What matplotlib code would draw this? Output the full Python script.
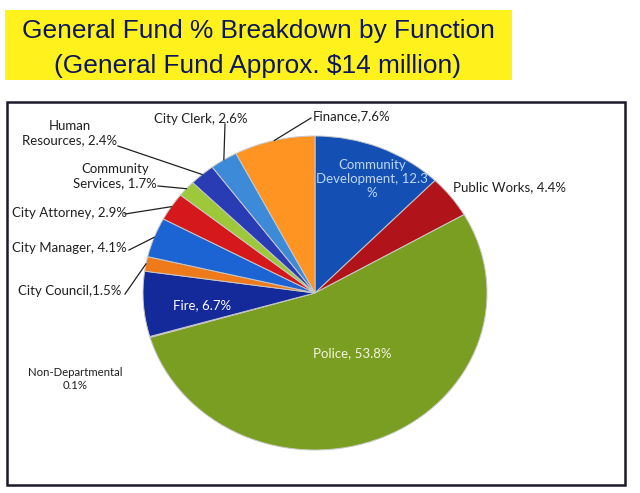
import matplotlib
matplotlib.use("Agg")
import matplotlib.pyplot as plt
from matplotlib.patches import Rectangle
import numpy as np

# ---- data ----
categories = ["Community Development", "Public Works", "Police", "Non-Departmental",
              "Fire", "City Council", "City Manager", "City Attorney",
              "Community Services", "Human Resources", "City Clerk", "Finance"]
values = [12.3, 4.4, 53.8, 0.1, 6.7, 1.5, 4.1, 2.9, 1.7, 2.4, 2.6, 7.6]
label_texts = ["Community\nDevelopment, 12.3\n%", "Public Works, 4.4%", "Police, 53.8%",
               "Non-Departmental\n0.1%", "Fire, 6.7%", "City Council,1.5%",
               "City Manager, 4.1%", "City Attorney, 2.9%", "Community\nServices, 1.7%",
               "Human\nResources, 2.4%", "City Clerk, 2.6%", "Finance,7.6%"]
title_lines = ["General Fund % Breakdown by Function",
               "(General Fund Approx. $14 million)"]

colors = ["#1450b4", "#b0141a", "#7a9e22", "#9090a0", "#152a9a", "#ee7a1c",
          "#1c64d4", "#d4181c", "#9cc83a", "#2a3cb4", "#3c8ad8", "#ff9422"]

W, H = 640, 493
fig = plt.figure(figsize=(W / 100, H / 100), dpi=100)
fig.patch.set_facecolor("white")

# overlay axes in pixel coordinates (y down)
ov = fig.add_axes([0, 0, 1, 1])
ov.set_xlim(0, W)
ov.set_ylim(H, 0)
ov.axis("off")

# title box
ov.add_patch(Rectangle((5, 10), 507, 70, facecolor="#fff21c", edgecolor="none", zorder=1))
ov.text(258, 38, title_lines[0], ha="center", va="baseline", fontsize=18.9,
        family="Liberation Sans", color="#0c1658", zorder=2)
ov.text(258, 73, title_lines[1], ha="center", va="baseline", fontsize=18.9,
        family="Liberation Sans", color="#0c1658", zorder=2)

# chart frame
ov.add_patch(Rectangle((7, 102), 618, 383, facecolor="none", edgecolor="#1a1a2a",
                       linewidth=1.8, zorder=1))

# pie axes (slightly elliptical like the scan)
cx0, cx1, cy0, cy1 = 143, 487, 136, 450
pax = fig.add_axes([cx0 / W, 1 - cy1 / H, (cx1 - cx0) / W, (cy1 - cy0) / H])
wedges, _ = pax.pie(values, colors=colors, startangle=90, counterclock=False,
                    radius=1.0, wedgeprops=dict(edgecolor="#c8c8c8", linewidth=0.7))
pax.set_aspect("auto")
pax.set_xlim(-1, 1)
pax.set_ylim(-1, 1)
pax.axis("off")
pax.set_zorder(2)
ov.set_zorder(3)
ov.patch.set_alpha(0)


def wedge_point(i, r=1.0):
    w = wedges[i]
    th = np.deg2rad((w.theta1 + w.theta2) / 2)
    disp = pax.transData.transform((r * np.cos(th), r * np.sin(th)))
    return ov.transData.inverted().transform(disp)


lab_font = ["Lato", "DejaVu Sans"]
fs = 9.5

# outside labels: (index, text x, text y, ha, line start)
outside = [
    (11, 313, 116, "left", (311, 118)),
    (10, 201, 119, "center", (225, 124)),
    (9, 70, 133, "center", (118, 146)),
    (8, 115, 176, "center", (158, 186)),
    (7, 12, 213, "left", (125, 214)),
    (6, 12, 248, "left", (129, 250)),
    (5, 18, 291, "left", (125, 294)),
]
for i, tx, ty, ha, (lx, ly) in outside:
    ov.text(tx, ty, label_texts[i], ha=ha, va="center", fontsize=fs,
            family=lab_font, color="#202020", linespacing=1.2, zorder=4)
    px, py = wedge_point(i, 1.0)
    ov.plot([lx, px], [ly, py], color="#202020", lw=0.9, zorder=4)

# Public Works
ov.text(453, 187, label_texts[1], ha="left", va="center", fontsize=fs,
        family=lab_font, color="#202020", zorder=4)
# Non-Departmental
ov.text(75, 379, label_texts[3], ha="center", va="center", fontsize=8.2,
        family=lab_font, color="#202020", linespacing=1.2, zorder=4)
# inside labels
ov.text(202, 305, label_texts[4], ha="center", va="center", fontsize=fs,
        family=lab_font, color="white", zorder=4)
ov.text(352, 353, label_texts[2], ha="center", va="center", fontsize=fs,
        family=lab_font, color="#f4f4dc", zorder=4)
ov.text(372, 179, label_texts[0], ha="center", va="center", fontsize=fs,
        family=lab_font, color="#bcd6f2", linespacing=1.2, zorder=4)

fig.savefig("out.png", dpi=100)
